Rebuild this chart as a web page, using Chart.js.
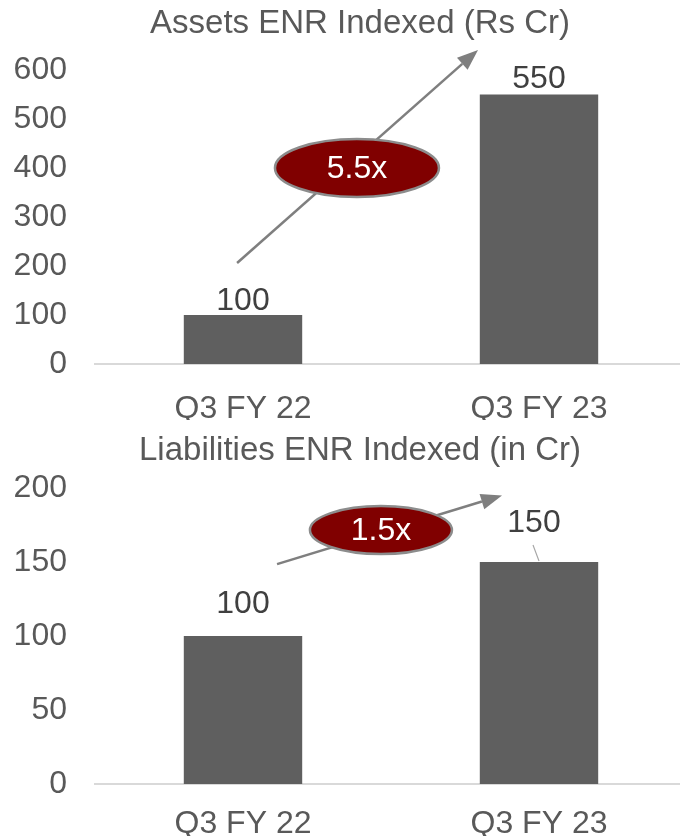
<!DOCTYPE html>
<html>
<head>
<meta charset="utf-8">
<title>ENR Indexed</title>
<script src="https://cdn.jsdelivr.net/npm/chart.js@4.4.1/dist/chart.umd.min.js"></script>
<style>
  html, body { margin: 0; padding: 0; background: #fff; overflow: hidden; }
  #wrap { position: relative; width: 680px; height: 836px; overflow: hidden; }
  .box { position: absolute; left: 0; width: 720px; }
  #assetsBox { top: 0; height: 420px; }
  #liabBox { top: 420px; height: 419px; }
</style>
</head>
<body>
<div id="wrap">
  <div class="box" id="assetsBox"><canvas id="assetsChart"></canvas></div>
  <div class="box" id="liabBox"><canvas id="liabChart"></canvas></div>
</div>
<script>
// Data
const categories = ['Q3 FY 22', 'Q3 FY 23'];
const assetValues = [100, 550];
const liabilityValues = [100, 150];
const assetAxis = { max: 600, step: 100 };
const liabilityAxis = { max: 200, step: 50 };
const assetGrowth = '5.5x';
const liabilityGrowth = '1.5x';

const FONT = "'Liberation Sans', Arial, sans-serif";
const BAR_COLOR = '#5f5f5f';
const TEXT_COLOR = '#595959';

// Title (centred on the canvas), value labels, growth arrow and red badge
const overlayPlugin = {
    id: 'overlay',
    afterDatasetsDraw(chart, args, opts) {
        const ctx = chart.ctx;
        const xs = chart.scales.x;
        const ys = chart.scales.y;
        const pt = (p) => [xs.getPixelForValue(p[0]), ys.getPixelForValue(p[1])];
        const meta = chart.getDatasetMeta(0);
        const values = chart.data.datasets[0].data;

        ctx.save();
        ctx.textAlign = 'center';

        // heading
        ctx.font = '33px ' + FONT;
        ctx.textBaseline = 'alphabetic';
        ctx.fillStyle = TEXT_COLOR;
        ctx.fillText(opts.title, chart.width / 2, opts.titleBase);

        ctx.font = '32px ' + FONT;
        ctx.textBaseline = 'middle';

        // value labels above each bar
        meta.data.forEach((bar, i) => {
            const lx = bar.x + (opts.labelShift[i] || 0);
            const ly = bar.y - opts.labelGap[i];
            ctx.fillStyle = '#404040';
            ctx.fillText(String(values[i]), lx, ly);
            if (opts.leader && opts.leader[i]) {
                ctx.strokeStyle = '#a6a6a6';
                ctx.lineWidth = 1.2;
                ctx.beginPath();
                ctx.moveTo(lx - 1, ly + 22);
                ctx.lineTo(bar.x, bar.y - 1);
                ctx.stroke();
            }
        });

        // arrow
        const [x0, y0] = pt(opts.arrow.from);
        const [x1, y1] = pt(opts.arrow.to);
        const ang = Math.atan2(y1 - y0, x1 - x0);
        const headLen = 21, headW = 8;
        const bx = x1 - headLen * Math.cos(ang);
        const by = y1 - headLen * Math.sin(ang);
        ctx.strokeStyle = '#7f7f7f';
        ctx.fillStyle = '#7f7f7f';
        ctx.lineWidth = 2.5;
        ctx.beginPath();
        ctx.moveTo(x0, y0);
        ctx.lineTo(bx, by);
        ctx.stroke();
        ctx.beginPath();
        ctx.moveTo(x1, y1);
        ctx.lineTo(bx + headW * Math.sin(ang), by - headW * Math.cos(ang));
        ctx.lineTo(bx - headW * Math.sin(ang), by + headW * Math.cos(ang));
        ctx.closePath();
        ctx.fill();

        // badge
        const [cx, cy] = pt(opts.badge.at);
        ctx.beginPath();
        ctx.ellipse(cx, cy, opts.badge.rx, opts.badge.ry, 0, 0, Math.PI * 2);
        ctx.fillStyle = '#800000';
        ctx.fill();
        ctx.strokeStyle = '#8c8c8c';
        ctx.lineWidth = 2.5;
        ctx.stroke();
        ctx.fillStyle = '#ffffff';
        ctx.fillText(opts.badge.text, cx, cy + 1);
        ctx.restore();
    }
};

function makeChart(id, values, axis, topPad, xHeight, xPad, overlay) {
    return new Chart(document.getElementById(id), {
        type: 'bar',
        data: {
            labels: categories,
            datasets: [{
                data: values,
                backgroundColor: BAR_COLOR,
                categoryPercentage: 1,
                barPercentage: 0.4
            }]
        },
        options: {
            responsive: true,
            maintainAspectRatio: false,
            animation: false,
            layout: { padding: { left: 0, right: 33, top: topPad, bottom: 0 } },
            plugins: {
                legend: { display: false },
                tooltip: { enabled: false },
                title: { display: false },
                overlay: overlay
            },
            scales: {
                x: {
                    grid: { display: false, drawTicks: false, tickLength: 0 },
                    border: { display: true, color: '#d9d9d9', width: 2 },
                    afterFit: (scale) => { scale.height = xHeight; },
                    ticks: {
                        color: TEXT_COLOR,
                        padding: xPad,
                        font: { family: FONT, size: 32 }
                    }
                },
                y: {
                    min: 0,
                    max: axis.max,
                    grid: { display: false, drawTicks: false, tickLength: 0 },
                    border: { display: false },
                    afterFit: (scale) => { scale.width = 95; },
                    ticks: {
                        stepSize: axis.step,
                        color: TEXT_COLOR,
                        padding: 28,
                        font: { family: FONT, size: 32 }
                    }
                }
            }
        },
        plugins: [overlayPlugin]
    });
}

makeChart('assetsChart', assetValues, assetAxis, 70, 56, 26, {
    title: 'Assets ENR Indexed (Rs Cr)',
    titleBase: 33,
    labelGap: [14, 15],
    labelShift: [0, 0],
    arrow: { from: [-0.02, 206], to: [0.794, 641] },
    badge: { at: [0.385, 400], rx: 82, ry: 29, text: assetGrowth }
});

makeChart('liabChart', liabilityValues, liabilityAxis, 68, 55, 21, {
    title: 'Liabilities ENR Indexed (in Cr)',
    titleBase: 40,
    labelGap: [32, 39],
    labelShift: [0, -5],
    leader: [false, true],
    arrow: { from: [0.115, 148.6], to: [0.875, 195] },
    badge: { at: [0.466, 171.6], rx: 71, ry: 24, text: liabilityGrowth }
});
</script>
</body>
</html>
